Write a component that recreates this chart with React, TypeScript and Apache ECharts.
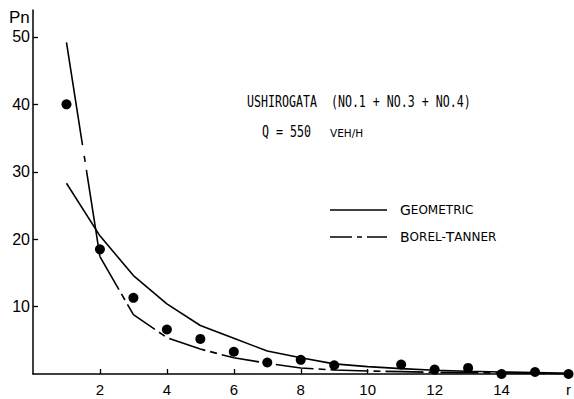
import React, { useEffect, useRef } from "react";
import * as echarts from "echarts";

const rValues = [1, 2, 3, 4, 5, 6, 7, 8, 9, 10, 11, 12, 13, 14, 15, 16];
const observed = [40.0, 18.5, 11.3, 6.6, 5.2, 3.3, 1.7, 2.1, 1.3, null, 1.4, 0.65, 0.9, 0.0, 0.3, 0.0];
const geometric = [28.3, 20.5, 14.6, 10.4, 7.2, 5.3, 3.4, 2.4, 1.5, 1.1, 0.8, 0.55, 0.4, 0.3, 0.2, 0.1];
const borelTanner = [49.2, 17.4, 8.8, 5.4, 3.7, 2.4, 1.6, 0.9, 0.6, 0.45, 0.35, 0.25, 0.2, 0.15, 0.1, 0.05];
const xTicks = [2, 4, 6, 8, 10, 12, 14];
const xLabels = [2, 4, 6, 8, 10, 12, 14, 16];
const yTicks = [10, 20, 30, 40, 50];

const pairs = (vals: (number | null)[]) => rValues.map((r, i) => [r, vals[i]]);

export default function App() {
  const ref = useRef<HTMLDivElement>(null);
  useEffect(() => {
    if (!ref.current) return;
    const chart = echarts.init(ref.current, null, { renderer: "svg" });
    const mono = "DejaVu Sans Mono";
    const sans = "DejaVu Sans";
    const smallCaps = { b: { fontSize: 14, fontFamily: sans }, s: { fontSize: 12, fontFamily: sans } };
    const bt = pairs(borelTanner);
    chart.setOption({
      animation: false,
      backgroundColor: "#fff",
      grid: { left: 33, right: 2, top: 10, bottom: 25 },
      xAxis: {
        type: "value",
        min: 0,
        max: 16,
        splitLine: { show: false },
        axisLine: { lineStyle: { color: "#000", width: 1.5 } },
        axisTick: { inside: true, length: 5, customValues: xTicks, lineStyle: { color: "#000", width: 1.3 } },
        axisLabel: {
          customValues: xLabels,
          formatter: (v: number) => (v === 16 ? "r" : String(v)),
          color: "#000",
          fontSize: 15,
          fontFamily: "Liberation Sans",
          margin: 8,
        },
      },
      yAxis: {
        type: "value",
        min: 0,
        max: 54,
        splitLine: { show: false },
        axisLine: { lineStyle: { color: "#000", width: 1.5 } },
        axisTick: { inside: true, length: 5, customValues: yTicks, lineStyle: { color: "#000", width: 1.3 } },
        axisLabel: {
          customValues: yTicks,
          color: "#000",
          fontSize: 16,
          fontFamily: "Liberation Sans",
          margin: 3,
        },
      },
      graphic: [
        { type: "text", x: 9, y: 17, style: { text: "Pn", fontSize: 17, fontFamily: "Liberation Sans", fill: "#000", verticalAlign: "middle" } },
        { type: "text", x: 247, y: 102, scaleX: 0.775, style: { text: "USHIROGATA  (NO.1 + NO.3 + NO.4)", fontSize: 15, fontFamily: mono, fill: "#000", verticalAlign: "middle" } },
        { type: "text", x: 262, y: 132, scaleX: 0.775, style: { text: "Q = 550", fontSize: 15, fontFamily: mono, fill: "#000", verticalAlign: "middle" } },
        { type: "text", x: 330, y: 133, style: { text: "VEH/H", fontSize: 10.5, fontFamily: sans, fill: "#000", verticalAlign: "middle" } },
        { type: "line", shape: { x1: 330, y1: 210, x2: 387, y2: 210 }, style: { stroke: "#000", lineWidth: 1.6 } },
        { type: "line", shape: { x1: 330, y1: 237, x2: 387, y2: 237 }, style: { stroke: "#000", lineWidth: 1.6, lineDash: [22, 5, 5, 5] } },
        {
          type: "text", x: 400, y: 210,
          style: { text: "{b|G}{s|EOMETRIC}", fill: "#000", verticalAlign: "middle", rich: smallCaps },
        },
        {
          type: "text", x: 400, y: 237,
          style: { text: "{b|B}{s|OREL-}{b|T}{s|ANNER}", fill: "#000", verticalAlign: "middle", rich: smallCaps },
        },
      ],
      series: [
        {
          name: "Geometric", type: "line", data: pairs(geometric), symbol: "none",
          lineStyle: { color: "#000", width: 1.6 },
        },
        {
          name: "Borel-Tanner", type: "line", data: bt.slice(0, 2), symbol: "none",
          lineStyle: { color: "#000", width: 1.6, type: [104, 11, 6, 8] },
        },
        {
          name: "Borel-Tanner", type: "line", data: bt.slice(1), symbol: "none",
          lineStyle: { color: "#000", width: 1.6, type: [38, 5, 7, 5] },
        },
        {
          name: "Observed", type: "scatter", data: pairs(observed), symbol: "circle", symbolSize: 10,
          itemStyle: { color: "#000", opacity: 1 }, clip: false,
        },
      ],
    });
    return () => chart.dispose();
  }, []);
  return <div ref={ref} style={{ position: "fixed", left: 0, top: 0, width: 574, height: 399, background: "#fff" }} />;
}
